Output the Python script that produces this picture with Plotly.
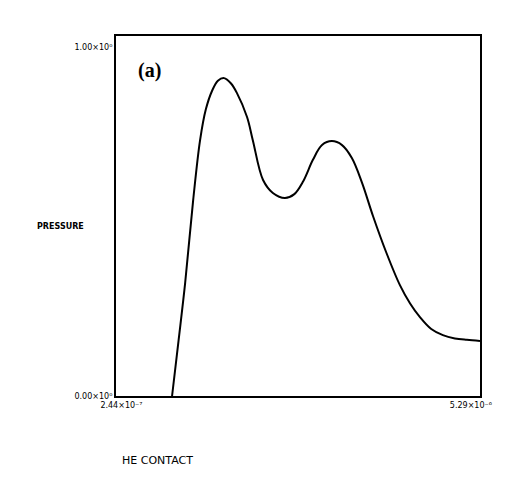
import plotly.graph_objects as go

# normalized time (fraction of axis span) and pressure (fraction of max)
x_vals = [0.154, 0.172, 0.190, 0.212, 0.231, 0.247, 0.264, 0.280, 0.297, 0.316, 0.332,
          0.360, 0.376, 0.404, 0.431, 0.464, 0.489, 0.514, 0.541, 0.566, 0.593,
          0.621, 0.648, 0.676, 0.706, 0.742, 0.780, 0.808, 0.835, 0.866, 0.898,
          0.931, 0.964, 1.0]
p_vals = [0.0, 0.155, 0.314, 0.544, 0.711, 0.797, 0.848, 0.876, 0.883, 0.868, 0.842,
          0.775, 0.710, 0.600, 0.564, 0.550, 0.560, 0.596, 0.656, 0.697, 0.708,
          0.697, 0.661, 0.592, 0.500, 0.400, 0.308, 0.257, 0.219, 0.186, 0.169,
          0.160, 0.156, 0.153]

x_tick_vals = [0.015, 0.975]
x_tick_text = ["2.44×10⁻⁷", "5.29×10⁻⁶"]
y_tick_vals = [0.0, 0.97]
y_tick_text = ["0.00×10⁰", "1.00×10⁰"]

fig = go.Figure()
fig.add_trace(go.Scatter(x=x_vals, y=p_vals, mode="lines",
                         line=dict(color="black", width=2, shape="spline", smoothing=1.0),
                         hoverinfo="skip", showlegend=False))

tick_font = dict(family="DejaVu Sans", size=8, color="black")
fig.update_layout(
    width=509, height=497,
    margin=dict(l=116, r=29, t=36, b=101),
    paper_bgcolor="white", plot_bgcolor="white",
    xaxis=dict(range=[0, 1], showgrid=False, zeroline=False, showline=True,
               linecolor="black", linewidth=2, mirror=True,
               tickvals=x_tick_vals, ticktext=x_tick_text, ticks="",
               tickfont=tick_font),
    yaxis=dict(range=[0, 1], showgrid=False, zeroline=False, showline=True,
               linecolor="black", linewidth=2, mirror=True,
               tickvals=y_tick_vals, ticktext=y_tick_text, ticks="",
               tickfont=tick_font),
)

W, H = 509, 497
l, r, t, b = 116, 29, 36, 101
pw, ph = W - l - r, H - t - b
def px(xp):
    return (xp - l) / pw
def py(yp):
    return (H - b - yp) / ph

fig.update_layout(annotations=[
    dict(text="<b>(a)</b>", x=px(136), y=py(70), xref="paper", yref="paper",
         xanchor="left", yanchor="middle", showarrow=False,
         font=dict(family="Liberation Serif", size=20, color="black")),
    dict(text="<b>PRESSURE</b>", x=px(60), y=py(226), xref="paper", yref="paper",
         xanchor="center", yanchor="middle", showarrow=False,
         font=dict(family="DejaVu Sans", size=8, color="black")),
    dict(text="HE CONTACT", x=px(120), y=py(460), xref="paper", yref="paper",
         xanchor="left", yanchor="middle", showarrow=False,
         font=dict(family="DejaVu Sans", size=11, color="black")),
])

fig.write_html("out.html")
